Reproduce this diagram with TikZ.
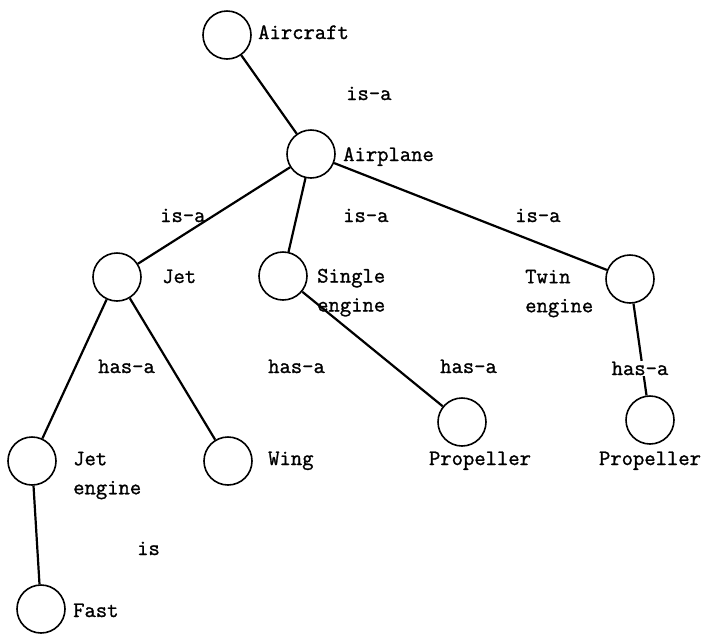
\documentclass[tikz,border=0pt]{standalone}
\usepackage{fontspec}
\setmonofont[FakeBold=1.2]{Latin Modern Mono}
\begin{document}
\begin{tikzpicture}[x=1pt,y=-1pt,
  concept/.style={circle,draw,line width=1.6pt,minimum size=48pt,inner sep=0pt},
  lbl/.style={font=\ttfamily\fontsize{22}{29}\selectfont,inner sep=0pt,anchor=base west},
  mlbl/.style={font=\ttfamily\fontsize{22}{29}\selectfont,inner sep=0pt,anchor=north west,align=left},
  link/.style={line width=2.2pt}]
\useasboundingbox (0,0) rectangle (707,633);
% concept circles
\node[concept] (aircraft) at (227,35) {};
\node[concept] (airplane) at (311,154) {};
\node[concept] (jet) at (117,277) {};
\node[concept] (single) at (283,276) {};
\node[concept] (twin) at (630,279) {};
\node[concept] (jetengine) at (32,461) {};
\node[concept] (wing) at (228,461) {};
\node[concept] (prop1) at (462,422) {};
\node[concept] (prop2) at (650,420) {};
\node[concept] (fast) at (41,609) {};
% links
\draw[link] (aircraft) -- (airplane);
\draw[link] (airplane) -- (jet);
\draw[link] (airplane) -- (single);
\draw[link] (airplane) -- (twin);
\draw[link] (single) -- (prop1);
\draw[link] (twin) -- (prop2);
\draw[link] (jet) -- (jetengine);
\draw[link] (jet) -- (wing);
\draw[link] (jetengine) -- (fast);
% concept names
\node[lbl] (taircraft) at (258,39) {Aircraft};
\node[lbl] (tairplane) at (343,161) {Airplane};
\node[lbl] (tjet) at (162,283) {Jet};
\node[mlbl] (tsingle) at (317,268.6) {Single\\engine};
\node[mlbl] (ttwin) at (525,269.6) {Twin\\engine};
\node[mlbl] (tjetengine) at (73,451.6) {Jet\\engine};
\node[lbl] (twing) at (268,465) {Wing};
\node[lbl,anchor=base] (tprop1) at (480,465) {Propeller};
\node[lbl,anchor=base] (tprop2) at (650,465) {Propeller};
\node[lbl] (tfast) at (73,617) {Fast};
% relation labels
\node[lbl] (r1) at (346,100) {is-a};
\node[lbl] (r2) at (160,222) {is-a};
\node[lbl] (r3) at (343,222) {is-a};
\node[lbl] (r4) at (515,222) {is-a};
\node[lbl] (r5) at (98,373) {has-a};
\node[lbl] (r6) at (268,373) {has-a};
\node[lbl] (r7) at (440,373) {has-a};
\node[lbl,anchor=base,fill=white,inner sep=1pt] (r8) at (640,375) {has-a};
\node[lbl] (r9) at (137,555) {is};
\end{tikzpicture}
\end{document}
